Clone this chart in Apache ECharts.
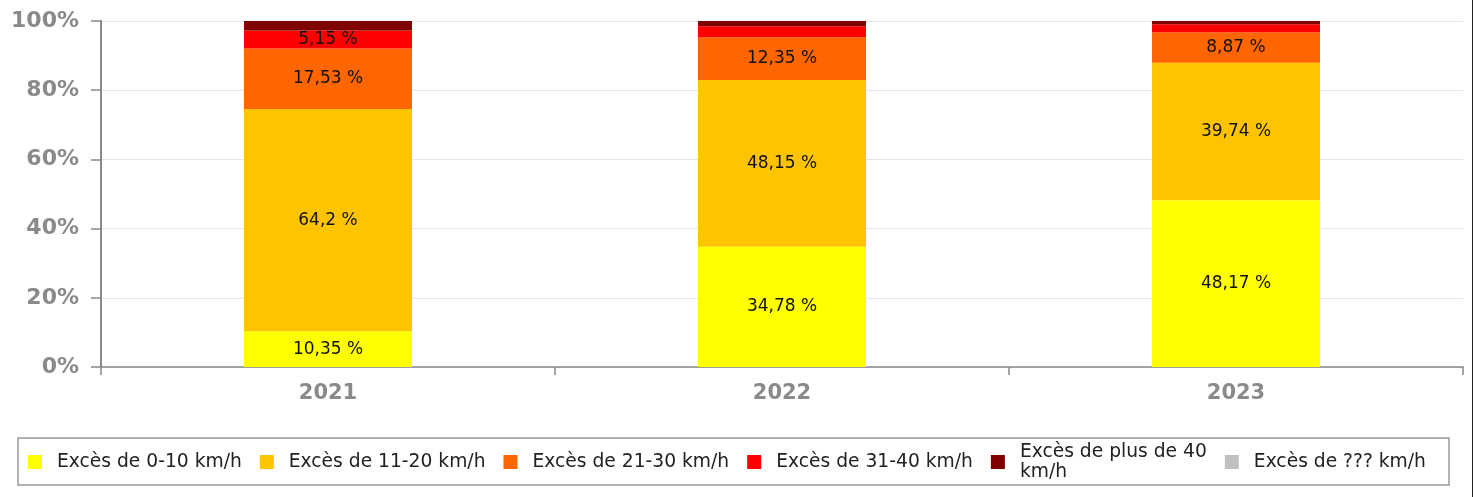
<!DOCTYPE html>
<html>
<head>
<meta charset="utf-8">
<script src="https://cdn.jsdelivr.net/npm/echarts@6/dist/echarts.min.js"></script>
<style>
  html, body { margin: 0; padding: 0; background: #fff; }
  #chart { width: 1473px; height: 497px; }
</style>
</head>
<body>
<div id="chart"></div>
<script>
var years = ['2021', '2022', '2023'];
var names = ['Excès de 0-10 km/h', 'Excès de 11-20 km/h', 'Excès de 21-30 km/h',
             'Excès de 31-40 km/h', 'Excès de plus de 40 km/h', 'Excès de ??? km/h'];
var colors = ['#ffff00', '#ffc400', '#ff6600', '#ff0000', '#800000', '#c0c0c0'];

var exces_0_10 = [10.35, 34.78, 48.17];
var exces_11_20 = [64.2, 48.15, 39.74];
var exces_21_30 = [17.53, 12.35, 8.87];
var exces_31_40 = [5.15, 3.22, 2.3];
var exces_plus_40 = [2.77, 1.5, 0.92];
var exces_inconnu = [0, 0, 0];

var yTicks = [0, 20, 40, 60, 80, 100];

var seriesData = [exces_0_10, exces_11_20, exces_21_30, exces_31_40, exces_plus_40, exces_inconnu];

var chart = echarts.init(document.getElementById('chart'));

var series = [];
for (var i = 0; i < names.length; i++) {
    series.push({
        name: names[i],
        type: 'bar',
        stack: 'total',
        barWidth: 168,
        data: seriesData[i],
        itemStyle: { color: colors[i] },
        label: {
            show: true,
            position: 'inside',
            color: '#111',
            fontFamily: 'DejaVu Sans',
            fontSize: 17,
            formatter: function (p) {
                // petites valeurs : pas d'étiquette
                if (p.value < 5) return '';
                return String(p.value).replace('.', ',') + ' %';
            }
        },
        emphasis: { disabled: true }
    });
}

var option = {
    animation: false,
    color: colors,
    grid: { left: 101, right: 10, top: 21, bottom: 130 },
    xAxis: {
        type: 'category',
        data: years,
        axisLine: { lineStyle: { color: '#888', width: 1.5 } },
        axisTick: { show: true, length: 8, lineStyle: { color: '#888', width: 1.5 } },
        axisLabel: {
            color: '#8a8a8a',
            fontFamily: 'DejaVu Sans',
            fontWeight: 'bold',
            fontSize: 21,
            margin: 16
        }
    },
    yAxis: {
        type: 'value',
        min: yTicks[0],
        max: yTicks[yTicks.length - 1],
        interval: yTicks[1] - yTicks[0],
        axisLine: { show: true, lineStyle: { color: '#888', width: 2 } },
        axisTick: { show: true, length: 10, lineStyle: { color: '#888', width: 1.5 } },
        splitLine: { lineStyle: { color: '#e6e6e6', width: 1 } },
        axisLabel: {
            color: '#8a8a8a',
            fontFamily: 'DejaVu Sans',
            fontWeight: 'bold',
            fontSize: 22,
            margin: 22,
            formatter: '{value}%'
        }
    },
    legend: {
        data: names,
        left: 23,
        top: 437,
        icon: 'rect',
        itemWidth: 14,
        itemHeight: 14,
        itemGap: 18,
        selectedMode: false,
        textStyle: {
            color: '#222',
            fontFamily: 'DejaVu Sans',
            fontSize: 18.7,
            padding: [0, 0, 0, 10],
            lineHeight: 20
        },
        formatter: function (name) {
            if (name === 'Excès de plus de 40 km/h') return 'Excès de plus de 40\nkm/h';
            return name;
        }
    },
    graphic: [{
        type: 'rect',
        shape: { x: 18, y: 438, width: 1431, height: 47 },
        style: { fill: 'none', stroke: '#999', lineWidth: 1.5 },
        silent: true
    }, {
        type: 'line',
        shape: { x1: 1472.5, y1: 0, x2: 1472.5, y2: 497 },
        style: { stroke: '#222', lineWidth: 1 },
        silent: true
    }],
    series: series
};

chart.setOption(option);
</script>
</body>
</html>
